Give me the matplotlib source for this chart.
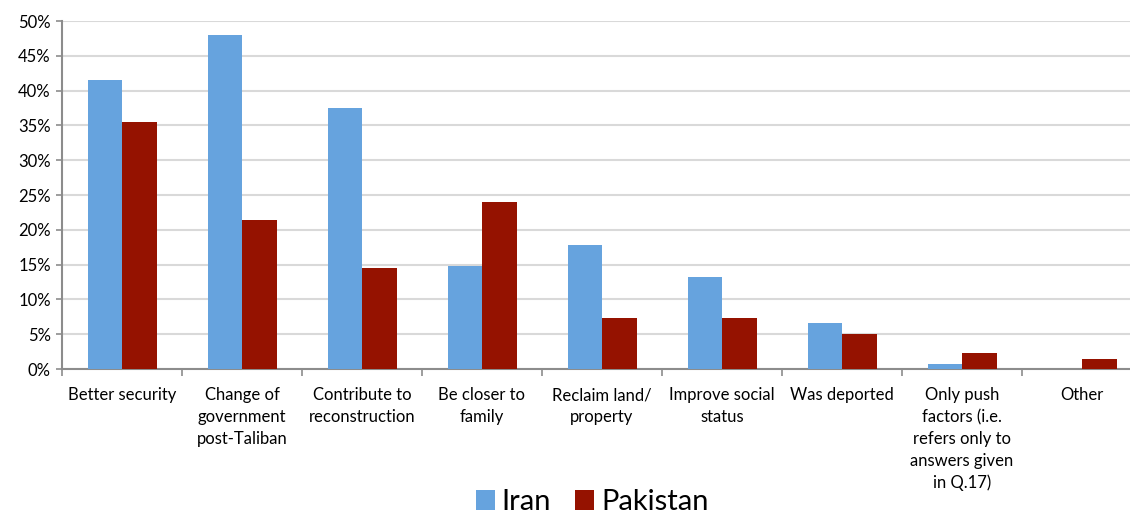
import numpy as np
import matplotlib.pyplot as plt
from matplotlib.ticker import FixedLocator, PercentFormatter

plt.rcParams['font.family'] = ['Lato', 'DejaVu Sans']

categories = ['Better security', 'Change of\ngovernment\npost-Taliban',
              'Contribute to\nreconstruction', 'Be closer to\nfamily',
              'Reclaim land/\nproperty', 'Improve social\nstatus', 'Was deported',
              'Only push\nfactors (i.e.\nrefers only to\nanswers given\nin Q.17)',
              'Other']
iran = [41.5, 48.0, 37.5, 14.8, 17.8, 13.2, 6.6, 0.7, 0.0]
pakistan = [35.5, 21.4, 14.5, 24.0, 7.3, 7.3, 5.0, 2.3, 1.4]

fig = plt.figure(figsize=(11.3, 5.18), dpi=100)
# axes runs off the right edge, like the original export
ax = fig.add_axes([62 / 1130, 149 / 518, 1080 / 1130, 348 / 518])

x = np.arange(len(categories))
w = 0.2875
ax.bar(x - w / 2, iran, w, color='#66a3de', label='Iran', zorder=3)
ax.bar(x + w / 2, pakistan, w, color='#951200', label='Pakistan', zorder=3)

ax.set_xlim(-0.5, len(categories) - 0.5)
ax.set_ylim(0, 50)
ax.set_yticks(np.arange(0, 51, 5))
ax.yaxis.set_major_formatter(PercentFormatter(decimals=0))
ax.grid(axis='y', color='#d9d9d9', linewidth=1.5, zorder=0)

ax.set_xticks(x)
ax.set_xticklabels(categories, fontsize=12, linespacing=1.45, va='top')
ax.tick_params(axis='x', which='major', length=0, pad=13)
ax.xaxis.set_minor_locator(FixedLocator(np.arange(-0.5, len(categories), 1)))
ax.tick_params(axis='x', which='minor', length=5, width=1.2, color='#8c8c8c')
ax.tick_params(axis='y', length=4, width=1.2, color='#8c8c8c', labelsize=12, pad=4)

for side in ['top', 'right']:
    ax.spines[side].set_visible(False)
for side in ['left', 'bottom']:
    ax.spines[side].set_color('#8c8c8c')
    ax.spines[side].set_linewidth(1.5)

fig.legend(loc='lower center', bbox_to_anchor=(592 / 1130, -0.045), ncol=2,
           frameon=False, fontsize=21, handlelength=0.65, handleheight=0.65,
           handletextpad=0.25, columnspacing=0.8)

fig.savefig('out.png', dpi=100)
